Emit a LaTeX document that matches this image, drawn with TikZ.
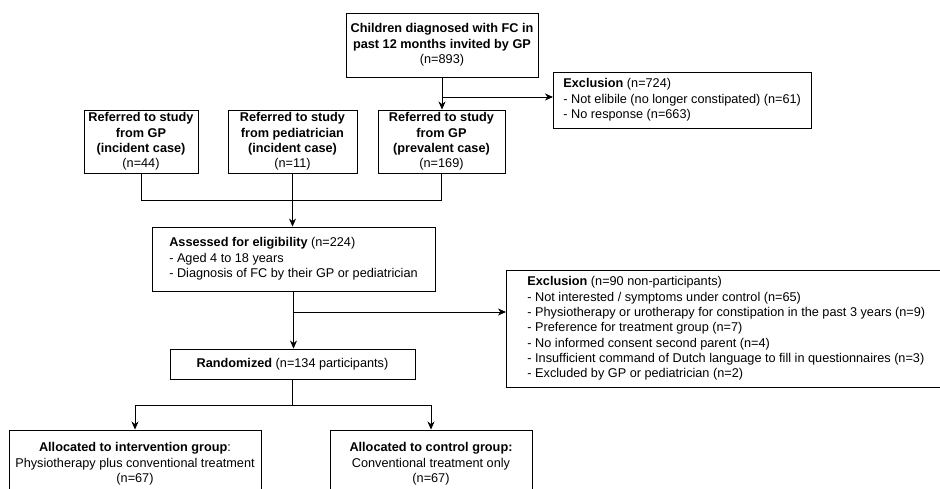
\documentclass[tikz,border=0pt]{standalone}
\usepackage{fontspec}
\setmainfont{Liberation Sans}
\usetikzlibrary{arrows.meta}

\tikzset{
  box/.style={draw, line width=0.9pt, inner sep=0pt, align=center, font=\fontsize{12.7}{15.3}\selectfont},
  lbox/.style={box, align=left},
  link/.style={line width=0.9pt, -{Stealth[length=8pt,width=7pt,inset=2.5pt]}},
  plain/.style={line width=0.9pt}
}

\begin{document}
\begin{tikzpicture}[x=1pt,y=-1pt]
  % Constants
  \pgfmathsetmacro\busTop{200}
  \pgfmathsetmacro\busMid{312}
  \pgfmathsetmacro\busLow{405}
  % Boundary
  \path[use as bounding box] (0,0) rectangle (940,489);
  \clip (0,0) rectangle (940,489);
  % Invitation and first exclusion
  \node[box, minimum width=192, minimum height=64] (invited) at (442,45)
    {\textbf{Children diagnosed with FC in}\\\textbf{past 12 months invited by GP}\\(n=893)};
  \node[lbox, anchor=west, inner xsep=10pt, minimum height=56] (exclGP) at (553,100)
    {\textbf{Exclusion} (n=724)\\- Not elibile (no longer constipated) (n=61)\\- No response (n=663)};
  % Referrals
  \node[box, minimum width=114, minimum height=63] (refInc) at (141,141.5)
    {\textbf{Referred to study}\\\textbf{from GP}\\\textbf{(incident case)}\\(n=44)};
  \node[box, minimum width=129, minimum height=63] (refPed) at (292.5,141.5)
    {\textbf{Referred to study}\\\textbf{from pediatrician}\\\textbf{(incident case)}\\(n=11)};
  \node[box, minimum width=127, minimum height=63] (refPrev) at (441.5,141.5)
    {\textbf{Referred to study}\\\textbf{from GP}\\\textbf{(prevalent case)}\\(n=169)};
  % Eligibility and second exclusion
  \node[lbox, minimum width=283, minimum height=64] (assessed) at (293.5,259)
    {\textbf{Assessed for eligibility} (n=224)\\- Aged 4 to 18 years\\- Diagnosis of FC by their GP or pediatrician};
  \node[lbox, anchor=west, inner xsep=21pt, minimum height=117] (exclStudy) at (506,328.5)
    {\textbf{Exclusion} (n=90 non-participants)\\
     - Not interested / symptoms under control (n=65)\\
     - Physiotherapy or urotherapy for constipation in the past 3 years (n=9)\\
     - Preference for treatment group (n=7)\\
     - No informed consent second parent (n=4)\\
     - Insufficient command of Dutch language to fill in questionnaires (n=3)\\
     - Excluded by GP or pediatrician (n=2)};
  % Randomization and allocation
  \node[box, minimum width=245, minimum height=30] (rand) at (292.5,364)
    {\textbf{Randomized} (n=134 participants)};
  \node[box, minimum width=252, minimum height=68] (allocInt) at (135,464)
    {\textbf{Allocated to intervention group}:\\Physiotherapy plus conventional treatment\\(n=67)};
  \node[box, minimum width=202, minimum height=68] (allocCtl) at (431,464)
    {\textbf{Allocated to control group:}\\Conventional treatment only\\(n=67)};
  % Connectors
  \coordinate (splitGP) at (442,97);
  \draw[link] (invited.south) -- (invited.south |- refPrev.north);
  \draw[link] (splitGP) -- (exclGP.west |- splitGP);
  \draw[plain] (refInc.south) |- (refPrev.south |- 0,\busTop) -- (refPrev.south);
  \draw[link] (refPed.south) -- (refPed.south |- assessed.north);
  \draw[link] (assessed.south) -- (assessed.south |- rand.north);
  \coordinate (splitElig) at (293.5,\busMid);
  \draw[link] (splitElig) -- (exclStudy.west |- splitElig);
  \coordinate (splitRand) at (292.5,\busLow);
  \draw[plain] (rand.south) -- (splitRand);
  \draw[link] (splitRand) -| (allocInt.north);
  \draw[link] (splitRand) -| (allocCtl.north);
\end{tikzpicture}
\end{document}
